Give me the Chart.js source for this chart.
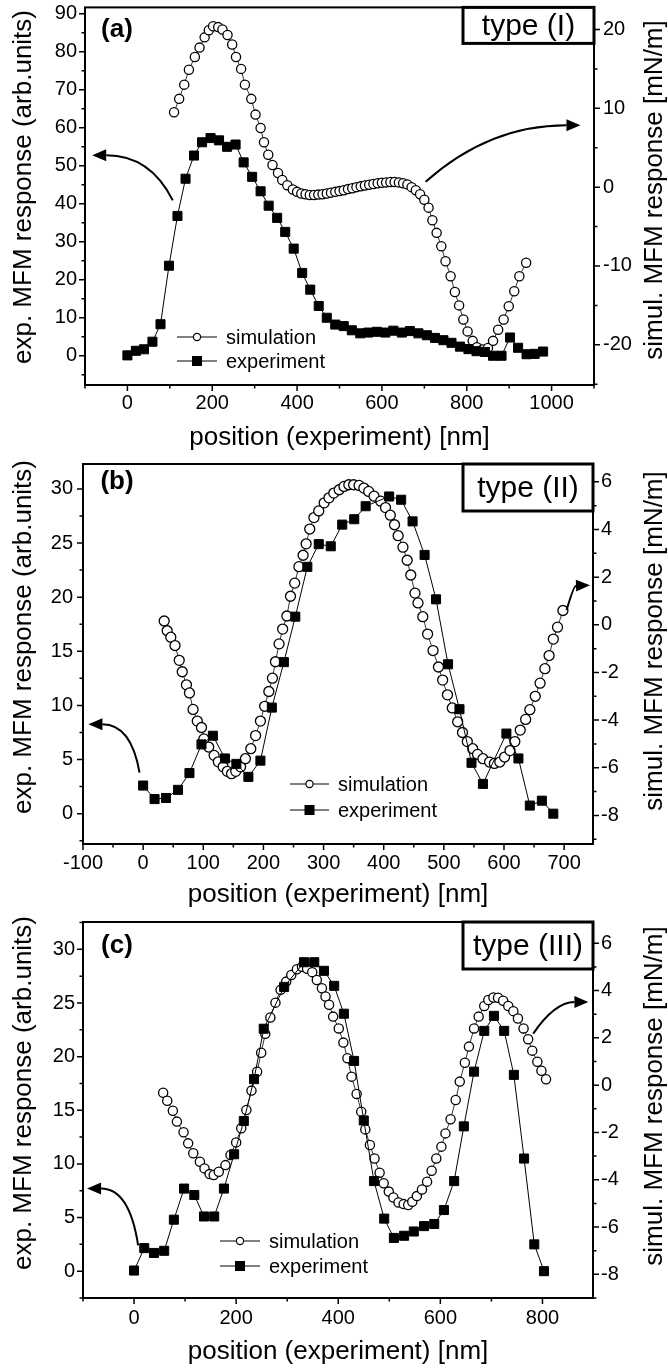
<!DOCTYPE html>
<html>
<head>
<meta charset="utf-8">
<script src="https://cdn.jsdelivr.net/npm/chart.js@4.4.0/dist/chart.umd.min.js"></script>
<style>
  body { margin: 0; background: #fff; }
  #wrap { position: relative; width: 668px; height: 1369px; }
  canvas { position: absolute; left: 0; }
</style>
</head>
<body>
<div id="wrap">
  <canvas id="chartA" style="top:0px" width="668" height="456"></canvas>
  <canvas id="chartB" style="top:456px" width="668" height="456"></canvas>
  <canvas id="chartC" style="top:912px" width="668" height="457"></canvas>
</div>
<script>
// ---- panel (a), type (I) ----
const posExpA = [0,20,39,59,78,98,118,137,157,176,196,216,235,255,274,294,314,333,353,372,392,412,431,451,470,490,510,529,549,568,588,608,627,647,666,686,706,725,745,764,784,804,823,843,862,882,902,921,941,960,980];
const expA = [0.1,1.3,1.7,3.7,8.3,23.7,36.8,46.6,52.7,56.2,57.3,56.7,55.0,55.6,50.9,47.1,43.3,39.5,36.3,32.6,28.2,21.8,17.4,13.1,10.0,8.2,7.8,6.7,5.9,6.1,6.3,6.1,6.6,6.1,6.5,5.9,5.4,4.7,4.1,3.4,2.4,1.75,1.2,1.0,0.0,0.0,4.8,2.1,0.4,0.5,1.1];
const posSimA = [110,122,134,145,159,170,182,192,202,214,224,236,247,256,268,277,292,302,314,322,332,342,355,365,377,390,400,410,420,430,440,450,460,470,480,490,500,510,520,530,540,550,560,570,580,590,600,610,620,630,640,650,660,670,680,690,700,710,719,729,740,750,762,772,782,792,802,814,824,837,850,862,874,887,899,912,924,940];
const simA = [9.5,11.2,13.0,14.9,16.5,17.7,19.0,19.9,20.4,20.3,20.0,19.3,18.1,16.5,15.0,13.0,11.2,9.2,7.5,5.7,4.1,2.8,1.8,0.9,0.25,-0.3,-0.6,-0.8,-0.9,-1.0,-1.0,-0.95,-0.9,-0.8,-0.7,-0.6,-0.5,-0.4,-0.25,-0.15,0.0,0.1,0.2,0.3,0.4,0.5,0.55,0.6,0.65,0.65,0.6,0.5,0.35,0.0,-0.4,-0.9,-1.6,-2.6,-4.2,-5.8,-7.5,-9.4,-11.3,-13.3,-15.0,-16.8,-18.3,-19.5,-20.3,-20.6,-20.4,-19.5,-18.1,-16.8,-15.1,-13.2,-11.3,-9.6];
const xTicksA = [0,200,400,600,800,1000];
const leftTicksA = [0,10,20,30,40,50,60,70,80,90];
const rightTicksA = [-20,-10,0,10,20];

// ---- panel (b), type (II) ----
const posExpB = [0,19,38,58,77,97,116,136,155,175,195,214,234,253,273,292,312,331,351,370,409,429,448,468,487,507,526,546,565,604,624,643,663,682];
const expB = [2.6,1.35,1.45,2.2,3.75,6.4,7.2,5.1,4.6,3.4,4.9,9.8,14.0,18.2,22.8,24.9,24.7,26.7,27.2,28.4,29.3,29.0,27.0,23.9,19.8,13.8,9.65,4.7,2.75,7.4,5.1,0.75,1.2,0.0];
const posSimB = [35,40,46,53,60,65,72,77,83,90,97,101,109,118,125,133,140,147,154,162,170,179,187,195,202,209,215,220,226,232,239,245,252,259,266,271,277,284,292,301,309,317,326,334,342,350,359,367,375,384,395,403,411,418,424,432,439,445,452,457,465,473,482,491,498,506,514,523,531,539,548,556,565,576,584,593,601,610,618,627,636,643,652,660,668,675,682,689,698];
const simB = [0.16,-0.25,-0.52,-0.87,-1.49,-1.97,-2.52,-2.86,-3.55,-4.04,-4.31,-4.79,-5.13,-5.48,-5.75,-5.96,-6.15,-6.25,-6.15,-5.96,-5.62,-5.2,-4.65,-4.04,-3.42,-2.8,-2.24,-1.55,-0.8,-0.18,0.37,1.2,1.75,2.44,2.92,3.4,4.02,4.5,4.78,5.12,5.33,5.53,5.67,5.81,5.88,5.88,5.85,5.74,5.6,5.4,5.19,4.92,4.6,4.2,3.74,3.26,2.71,2.09,1.33,0.92,0.34,-0.39,-1.08,-1.77,-2.32,-2.94,-3.49,-4.07,-4.52,-4.9,-5.2,-5.44,-5.62,-5.76,-5.82,-5.76,-5.55,-5.28,-4.9,-4.42,-3.97,-3.56,-3.0,-2.45,-1.84,-1.29,-0.6,-0.1,0.6];
const xTicksB = [-100,0,100,200,300,400,500,600,700];
const leftTicksB = [0,5,10,15,20,25,30];
const rightTicksB = [-8,-6,-4,-2,0,2,4,6];

// ---- panel (c), type (III) ----
const posExpC = [0,20,39,59,78,98,118,137,157,176,196,215,235,254,294,333,353,372,392,411,431,450,470,490,509,529,548,568,588,607,627,646,666,686,705,725,744,764,784,803];
const expC = [0.06,2.15,1.7,1.9,4.8,7.7,7.1,5.1,5.1,7.7,10.9,14.0,17.9,22.6,26.5,28.8,28.8,28.0,26.6,24.0,19.6,14.05,8.4,4.9,3.1,3.3,3.7,4.2,4.4,5.7,8.4,13.5,18.6,22.4,23.8,22.4,18.3,10.5,2.5,0.0];
const posSimC = [57,65,76,84,97,106,116,129,138,148,156,166,179,189,200,210,220,230,241,249,257,267,277,287,298,308,319,329,339,349,358,368,375,382,390,401,410,418,426,436,445,453,462,471,481,489,499,508,518,528,537,545,554,564,574,583,592,602,610,620,630,638,648,656,666,675,686,694,704,713,723,733,743,752,763,772,780,790,798,807];
const simC = [-0.32,-0.66,-1.08,-1.54,-1.99,-2.46,-2.88,-3.24,-3.52,-3.76,-3.8,-3.66,-3.38,-2.95,-2.42,-1.82,-1.05,-0.23,0.57,1.37,2.17,2.86,3.49,4.03,4.38,4.66,4.9,5.01,4.92,4.78,4.45,4.1,3.75,3.4,2.9,2.4,1.8,1.14,0.36,-0.37,-1.12,-1.87,-2.53,-3.1,-3.7,-4.15,-4.5,-4.75,-4.96,-5.03,-5.07,-4.93,-4.69,-4.41,-4.08,-3.62,-3.1,-2.6,-2.04,-1.44,-0.63,0.15,0.95,1.63,2.4,2.9,3.35,3.6,3.71,3.7,3.57,3.35,3.13,2.82,2.4,1.94,1.46,0.99,0.61,0.25];
const xTicksC = [0,200,400,600,800];
const leftTicksC = [0,5,10,15,20,25,30];
const rightTicksC = [-8,-6,-4,-2,0,2,4,6];

const FONT = '"Liberation Sans", Arial, Helvetica, sans-serif';

function pts(xs, ys) {
  return xs.map((x, i) => ({ x: x, y: ys[i] }));
}

// frame, minor ticks, legend, labels, arrows
const decor = {
  id: 'decor',
  afterDraw(chart, args, o) {
    const ctx = chart.ctx, a = chart.chartArea;
    const sx = chart.scales.x, sl = chart.scales.yL, sr = chart.scales.yR;
    ctx.save();
    ctx.strokeStyle = '#000';
    ctx.fillStyle = '#000';

    // tick marks (major + minor), pointing outward
    ctx.lineWidth = 1.5;
    function ticks(s, step, majors, draw) {
      for (let k = Math.ceil(s.min / step - 1e-9); k * step <= s.max + 1e-9; k++) {
        const v = k * step;
        const major = majors.some(m => Math.abs(m - v) < 1e-6);
        draw(s.getPixelForValue(v), major ? 6 : 3.5);
      }
    }
    ctx.beginPath();
    ticks(sx, o.minor[0], o.majors[0], (p, l) => { ctx.moveTo(p, a.bottom); ctx.lineTo(p, a.bottom + l); });
    ticks(sl, o.minor[1], o.majors[1], (p, l) => { ctx.moveTo(a.left, p); ctx.lineTo(a.left - l, p); });
    ticks(sr, o.minor[2], o.majors[2], (p, l) => { ctx.moveTo(a.right, p); ctx.lineTo(a.right + l, p); });
    ctx.stroke();

    // frame
    ctx.lineWidth = 2;
    ctx.strokeRect(a.left, a.top, a.right - a.left, a.bottom - a.top);

    // type box
    const bx = a.right - o.box.w, by = a.top;
    ctx.fillStyle = '#fff';
    ctx.fillRect(bx, by, o.box.w, o.box.h);
    ctx.lineWidth = 3;
    ctx.strokeRect(bx, by, o.box.w, o.box.h);
    ctx.fillStyle = '#000';
    ctx.font = '30px ' + FONT;
    ctx.textAlign = 'center';
    ctx.textBaseline = 'middle';
    ctx.fillText(o.box.text, bx + o.box.w / 2, by + o.box.h / 2 + 1);

    // panel letter
    ctx.font = 'bold 26px ' + FONT;
    ctx.fillText(o.letter.text, a.left + o.letter.dx, a.top + o.letter.dy);

    // y titles
    ctx.font = '26px ' + FONT;
    ctx.save();
    ctx.translate(o.titleL[0], o.titleL[1]);
    ctx.rotate(-Math.PI / 2);
    ctx.fillText('exp. MFM response (arb.units)', 0, 0);
    ctx.restore();
    ctx.save();
    ctx.translate(o.titleR[0], o.titleR[1]);
    ctx.rotate(-Math.PI / 2);
    ctx.fillText('simul. MFM response [mN/m]', 0, 0);
    ctx.restore();

    // legend
    const lg = o.legend;
    ctx.font = '20px ' + FONT;
    ctx.textAlign = 'left';
    ctx.lineWidth = 1;
    [['simulation', lg.y1], ['experiment', lg.y2]].forEach(([txt, y], i) => {
      ctx.beginPath();
      ctx.moveTo(lg.x, y);
      ctx.lineTo(lg.x + lg.len, y);
      ctx.stroke();
      const cx = lg.x + lg.len / 2;
      if (i === 0) {
        ctx.beginPath();
        ctx.arc(cx, y, 3.6, 0, Math.PI * 2);
        ctx.fillStyle = '#fff';
        ctx.fill();
        ctx.lineWidth = 1.2;
        ctx.stroke();
        ctx.lineWidth = 1;
      } else {
        ctx.fillStyle = '#000';
        ctx.fillRect(cx - 5, y - 5, 10, 10);
      }
      ctx.fillStyle = '#000';
      ctx.fillText(txt, lg.x + lg.len + 9, y + 1);
    });

    // curved arrows (data coordinates on the left axis)
    ctx.lineWidth = 2;
    o.arrows.forEach(ar => {
      const p0 = [sx.getPixelForValue(ar[0][0]), sl.getPixelForValue(ar[0][1])];
      const p1 = [sx.getPixelForValue(ar[1][0]), sl.getPixelForValue(ar[1][1])];
      const p2 = [sx.getPixelForValue(ar[2][0]), sl.getPixelForValue(ar[2][1])];
      const ang = Math.atan2(p2[1] - p1[1], p2[0] - p1[0]);
      const hl = 14, hw = 6;
      const bxp = p2[0] - hl * Math.cos(ang), byp = p2[1] - hl * Math.sin(ang);
      ctx.beginPath();
      ctx.moveTo(p0[0], p0[1]);
      ctx.quadraticCurveTo(p1[0], p1[1], bxp, byp);
      ctx.stroke();
      ctx.beginPath();
      ctx.moveTo(p2[0], p2[1]);
      ctx.lineTo(bxp + hw * Math.sin(ang), byp - hw * Math.cos(ang));
      ctx.lineTo(bxp - hw * Math.sin(ang), byp + hw * Math.cos(ang));
      ctx.closePath();
      ctx.fill();
    });
    ctx.restore();
  }
};

function yAxis(pos, min, max, tickVals, width, pad) {
  return {
    type: 'linear', position: pos, min: min, max: max,
    afterBuildTicks: s => { s.ticks = tickVals.map(v => ({ value: v })); },
    afterFit: s => { s.width = width; s.paddingTop = 0; s.paddingBottom = 0; },
    grid: { display: false, drawTicks: false },
    border: { display: false },
    ticks: { color: '#000', padding: pad, font: { family: FONT, size: 20 }, callback: v => String(v) }
  };
}

function makeChart(id, c) {
  return new Chart(document.getElementById(id), {
    type: 'scatter',
    data: {
      datasets: [
        { label: 'experiment', data: pts(c.expX, c.expY), yAxisID: 'yL', showLine: true,
          borderColor: '#000', borderWidth: 1, pointStyle: 'rect', pointRadius: 6.4,
          pointBackgroundColor: '#000', pointBorderColor: '#000', pointBorderWidth: 1, order: 0 },
        { label: 'simulation', data: pts(c.simX, c.simY), yAxisID: 'yR', showLine: true,
          borderColor: '#000', borderWidth: 0.8, pointStyle: 'circle', pointRadius: c.circle,
          pointBackgroundColor: '#fff', pointBorderColor: '#000', pointBorderWidth: 1.3, order: 1 }
      ]
    },
    options: {
      responsive: false, animation: false, events: [],
      layout: { padding: { left: 0, right: 0, top: c.top, bottom: c.height - c.bottom - c.xh } },
      plugins: { legend: { display: false }, tooltip: { enabled: false }, decor: c.decor },
      scales: {
        x: {
          type: 'linear', position: 'bottom', min: c.xr[0], max: c.xr[1],
          afterBuildTicks: s => { s.ticks = c.xt.map(v => ({ value: v })); },
          afterFit: s => { s.height = c.xh; s.paddingLeft = 0; s.paddingRight = 0; },
          grid: { display: false, drawTicks: false },
          border: { display: false },
          ticks: { color: '#000', padding: c.xpad, maxRotation: 0, autoSkip: false,
                   font: { family: FONT, size: 20 }, callback: v => String(v) },
          title: { display: true, text: 'position (experiment) [nm]', color: '#000', padding: 0,
                   font: { family: FONT, size: 26, lineHeight: 1 } }
        },
        yL: yAxis('left', c.lr[0], c.lr[1], c.lt, c.left, c.lpad),
        yR: yAxis('right', c.rr[0], c.rr[1], c.rt, 668 - c.right, c.rpad)
      }
    },
    plugins: [decor]
  });
}

makeChart('chartA', {
  expX: posExpA, expY: expA, simX: posSimA, simY: simA, circle: 4.6,
  height: 456, top: 7, bottom: 385, left: 85, right: 594, xh: 66,
  xr: [-100, 1100], lr: [-7.7, 91.7], rr: [-25.1, 22.8],
  xt: xTicksA, lt: leftTicksA, rt: rightTicksA, xpad: 6, lpad: 8, rpad: 9,
  decor: {
    minor: [100, 5, 5], majors: [xTicksA, leftTicksA, rightTicksA],
    box: { w: 131, h: 36, text: 'type (I)' },
    letter: { text: '(a)', dx: 32, dy: 22 },
    titleL: [23.5, 187], titleR: [655, 190],
    legend: { x: 177, len: 40, y1: 337, y2: 361 },
    arrows: [
      [[107, 40.9], [54, 52.8], [-83, 52.8]],
      [[703, 45.8], [852, 60.7], [1068, 60.7]]
    ]
  }
});

makeChart('chartB', {
  expX: posExpB, expY: expB, simX: posSimB, simY: simB, circle: 5,
  height: 456, top: 8, bottom: 388, left: 83, right: 593, xh: 64,
  xr: [-100, 748], lr: [-2.8, 32.3], rr: [-9.2, 6.75],
  xt: xTicksB, lt: leftTicksB, rt: rightTicksB, xpad: 7, lpad: 10, rpad: 8,
  decor: {
    minor: [50, 2.5, 1], majors: [xTicksB, leftTicksB, rightTicksB],
    box: { w: 130, h: 47, text: 'type (II)' },
    letter: { text: '(b)', dx: 34, dy: 17.5 },
    titleL: [23.5, 181], titleR: [655, 185],
    legend: { x: 290, len: 39, y1: 328, y2: 354 },
    arrows: [
      [[-6, 3.8], [-20, 8.26], [-91, 8.26]],
      [[704, 18.8], [716, 21.06], [743, 21.1]]
    ]
  }
});

makeChart('chartC', {
  expX: posExpC, expY: expC, simX: posSimC, simY: simC, circle: 4.6,
  height: 457, top: 10, bottom: 386, left: 83, right: 593, xh: 67,
  xr: [-100, 899], lr: [-2.5, 32.55], rr: [-9, 6.9],
  xt: xTicksC, lt: leftTicksC, rt: rightTicksC, xpad: 8, lpad: 8, rpad: 8,
  decor: {
    minor: [100, 2.5, 1], majors: [xTicksC, leftTicksC, rightTicksC],
    box: { w: 130, h: 47, text: 'type (III)' },
    letter: { text: '(c)', dx: 34, dy: 24 },
    titleL: [23.5, 181], titleR: [655, 184],
    legend: { x: 220, len: 40, y1: 329, y2: 354 },
    arrows: [
      [[8, 2.4], [-9, 7.7], [-92, 7.7]],
      [[782, 22.15], [824, 25.07], [890, 25.1]]
    ]
  }
});
</script>
</body>
</html>
